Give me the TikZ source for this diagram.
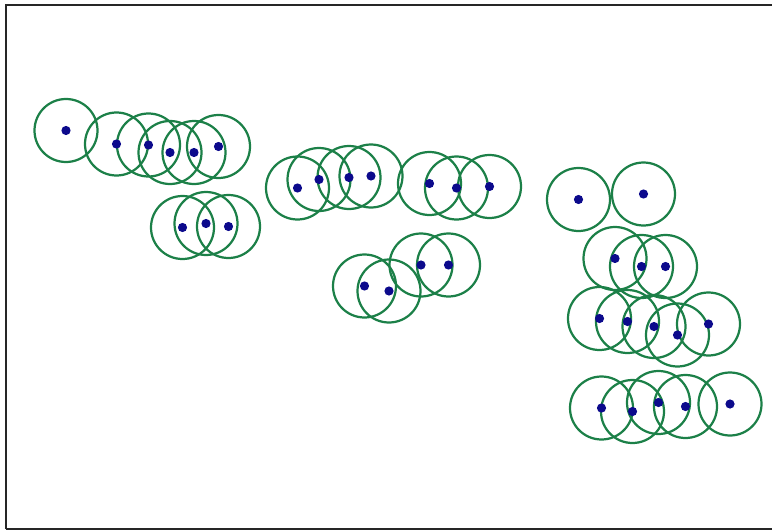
\documentclass[tikz,border=0pt]{standalone}
\usepackage{tikz}

\definecolor{ringgreen}{RGB}{28,128,72}
\definecolor{dotblue}{RGB}{12,10,140}

\tikzset{
    ring/.style={draw=ringgreen, line width=1.9pt, fill=none},
    centre/.style={fill=dotblue}
}

\begin{document}
\begin{tikzpicture}[x=0.03cm, y=-0.03cm]
    \useasboundingbox (0,0) rectangle (772,531);

    % frame
    \draw[line width=1.8pt, black!85] (6,529) -- (6,5) -- (772,5);
    \draw[line width=1.8pt, black!85] (6,529) -- (772,529);

    % first group
    \coordinate (A1) at (66,130.5);
    \coordinate (A2) at (116.5,144);
    \coordinate (A3) at (148.5,145);
    \coordinate (A4) at (170,152.5);
    \coordinate (A5) at (194,152.5);
    \coordinate (A6) at (218.5,146.5);
    \coordinate (A7) at (182.5,227.5);
    \coordinate (A8) at (206,223.5);
    \coordinate (A9) at (228.5,226.5);

    % second group
    \coordinate (B1) at (297.5,188);
    \coordinate (B2) at (319,179.5);
    \coordinate (B3) at (349,177.5);
    \coordinate (B4) at (371,176);
    \coordinate (B5) at (429.5,183.5);
    \coordinate (B6) at (456.5,188);
    \coordinate (B7) at (489.5,186.5);
    \coordinate (B8) at (421,265);
    \coordinate (B9) at (448.5,265);
    \coordinate (B10) at (364.5,286);
    \coordinate (B11) at (389,291);

    % third group
    \coordinate (C1) at (578.5,199.5);
    \coordinate (C2) at (643.5,194);
    \coordinate (C3) at (615,258.5);
    \coordinate (C4) at (641.5,266.5);
    \coordinate (C5) at (665.5,266.5);
    \coordinate (C6) at (599.5,318.5);
    \coordinate (C7) at (627.5,321.5);
    \coordinate (C8) at (654,326.5);
    \coordinate (C9) at (677.5,335);
    \coordinate (C10) at (708.5,324);
    \coordinate (C11) at (601.5,408);
    \coordinate (C12) at (632.5,411.5);
    \coordinate (C13) at (658.5,402.5);
    \coordinate (C14) at (685.5,406.5);
    \coordinate (C15) at (730,404);

    \foreach \p in {A1,A2,A3,A4,A5,A6,A7,A8,A9,
                    B1,B2,B3,B4,B5,B6,B7,B8,B9,B10,B11,
                    C1,C2,C3,C4,C5,C6,C7,C8,C9,C10,C11,C12,C13,C14,C15}
        \draw[ring] (\p) circle (31.5);

    \foreach \p in {A1,A2,A3,A4,A5,A6,A7,A8,A9,
                    B1,B2,B3,B4,B5,B6,B7,B8,B9,B10,B11,
                    C1,C2,C3,C4,C5,C6,C7,C8,C9,C10,C11,C12,C13,C14,C15}
        \fill[centre] (\p) circle (4.6);
\end{tikzpicture}
\end{document}
